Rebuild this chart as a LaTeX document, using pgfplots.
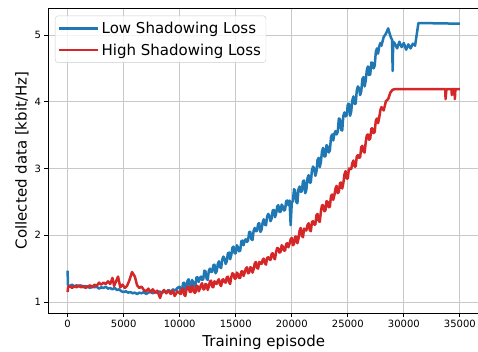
\documentclass[border=0pt]{standalone}
\usepackage{fontspec}
\setmainfont{DejaVu Sans}
\usepackage{pgfplots}
\pgfplotsset{compat=1.18}
\definecolor{tabblue}{HTML}{1F77B4}
\definecolor{tabred}{HTML}{D62728}
\definecolor{gridgray}{HTML}{C8C8C8}
\definecolor{legedge}{HTML}{CCCCCC}
\begin{document}
\begin{tikzpicture}
\useasboundingbox (-48pt,-38pt) rectangle (430pt,313pt);
\begin{axis}[
  at={(0pt,0pt)}, anchor=south west,
  scale only axis, width=431.5pt, height=305pt,
  xmin=-1750, xmax=36750, ymin=0.835, ymax=5.405,
  xtick={0,5000,...,35000}, ytick={1,2,3,4,5},
  scaled x ticks=false,
  grid=major, major grid style={gridgray, line width=0.8pt},
  axis line style={black, line width=0.8pt},
  tick align=outside, major tick length=3.5pt,
  tick style={black, line width=0.8pt},
  xtick pos=bottom, ytick pos=left,
  /pgf/number format/assume math mode=true,
  /pgf/number format/1000 sep={},
  ticklabel style={font=\fontsize{10}{12}\selectfont},
  xlabel={Training episode}, ylabel={Collected data [kbit/Hz]},
  label style={font=\fontsize{15}{18}\selectfont},
  xlabel style={at={(axis description cs:0.5,-0.0974)}, anchor=center, inner sep=0pt},
  ylabel style={at={(axis description cs:-0.0603,0.5)}, anchor=center, inner sep=0pt, rotate=0},
  legend style={at={(axis description cs:0.0162,0.975)}, anchor=north west,
    draw=legedge, rounded corners=3pt, fill=white, fill opacity=0.8, text opacity=1,
    font=\fontsize{15}{18}\selectfont, inner xsep=3pt, inner ysep=4pt,
    row sep=5pt},
  legend cell align=left,
  legend image code/.code={\draw[#1, line width=2.5pt] (0pt,0pt) -- (32pt,0pt); \path (0pt,0pt) -- (39pt,0pt);},
]
\addplot[tabblue, line width=2.5pt, line join=round] coordinates {
(0,1.47) (30,1.25) (200,1.24) (400,1.26) (600,1.23) (800,1.25) (1000,1.23) (1200,1.25)
(1400,1.22) (1600,1.24) (1800,1.23) (2000,1.21) (2200,1.24) (2400,1.22) (2600,1.23)
(2800,1.20) (3000,1.22) (3200,1.21) (3400,1.23) (3600,1.20) (3800,1.21) (4000,1.19)
(4200,1.21) (4400,1.18) (4600,1.19) (4800,1.16) (5000,1.15) (5200,1.16) (5400,1.14)
(5600,1.15) (5800,1.13) (6000,1.14) (6200,1.12) (6400,1.14) (6600,1.13) (6800,1.15)
(7000,1.12) (7200,1.14) (7400,1.15) (7600,1.13) (7800,1.15) (8000,1.14) (8200,1.16)
(8400,1.13) (8600,1.16) (8800,1.15) (9000,1.18) (9200,1.15) (9400,1.19) (9600,1.17)
(9800,1.21)
(10000,1.23) (10100,1.14) (10200,1.17) (10300,1.28) (10400,1.29) (10500,1.18)
(10600,1.22) (10700,1.32) (10800,1.34) (10900,1.23) (11000,1.22) (11100,1.33)
(11200,1.30) (11300,1.23) (11400,1.24) (11500,1.37) (11600,1.37) (11700,1.30)
(11800,1.36) (11900,1.38) (12000,1.33) (12100,1.34) (12200,1.47) (12300,1.46)
(12400,1.35) (12500,1.33) (12600,1.47) (12700,1.50) (12800,1.45) (12900,1.45)
(13000,1.55) (13100,1.56) (13200,1.43) (13300,1.46) (13400,1.57) (13500,1.61)
(13600,1.52) (13700,1.51) (13800,1.64) (13900,1.68) (14000,1.65) (14100,1.57)
(14200,1.61) (14300,1.73) (14400,1.74) (14500,1.64) (14600,1.70) (14700,1.81)
(14800,1.83) (14900,1.73) (15000,1.73) (15100,1.85) (15200,1.82) (15300,1.76)
(15400,1.77) (15500,1.91) (15600,1.92) (15700,1.85) (15800,1.92) (15900,1.94)
(16000,1.90) (16100,1.92) (16200,2.05) (16300,2.05) (16400,1.94) (16500,1.93)
(16600,2.07) (16700,2.11) (16800,2.06) (16900,2.07) (17000,2.17) (17100,2.18)
(17200,2.05) (17300,2.08) (17400,2.19) (17500,2.24) (17600,2.16) (17700,2.15)
(17800,2.28) (17900,2.32) (18000,2.29) (18100,2.21) (18200,2.25) (18300,2.37)
(18400,2.38) (18500,2.27) (18600,2.32) (18700,2.43) (18800,2.45) (18900,2.35)
(19000,2.35) (19100,2.46) (19200,2.43) (19300,2.37) (19400,2.38) (19500,2.51)
(19600,2.52) (19700,2.45) (19800,2.52) (19900,2.15) (20000,2.49) (20100,2.51)
(20200,2.69) (20300,2.67) (20400,2.50) (20500,2.48) (20600,2.69) (20700,2.73)
(20800,2.65) (20900,2.66) (21000,2.81) (21100,2.82) (21200,2.63) (21300,2.68)
(21400,2.85) (21500,2.90) (21600,2.79) (21700,2.79) (21800,2.98) (21900,3.03)
(22000,3.00) (22100,2.89) (22200,2.95) (22300,3.13) (22400,3.16) (22500,3.02)
(22600,3.10) (22700,3.26) (22800,3.31) (22900,3.18) (23000,3.18) (23100,3.35)
(23200,3.33) (23300,3.24) (23400,3.27) (23500,3.47) (23600,3.51) (23700,3.42)
(23800,3.52) (23900,3.56) (24000,3.51) (24100,3.55) (24200,3.75) (24300,3.74)
(24400,3.58) (24500,3.57) (24600,3.79) (24700,3.84) (24800,3.78) (24900,3.80)
(25000,3.96) (25100,3.97) (25200,3.79) (25300,3.85) (25400,4.02) (25500,4.08)
(25600,3.97) (25700,3.97) (25800,4.17) (25900,4.23) (26000,4.20) (26100,4.10)
(26200,4.16) (26300,4.34) (26400,4.37) (26500,4.23) (26600,4.32) (26700,4.48)
(26800,4.53) (26900,4.40) (27000,4.41) (27100,4.59) (27200,4.58) (27300,4.50)
(27400,4.54) (27500,4.75) (27600,4.80) (27700,4.72) (27800,4.83) (27900,4.88)
(28000,4.84) (28200,4.97) (28400,5.02) (28600,5.10) (28700,5.04) (28850,4.96) (28950,4.93)
(29000,4.46) (29050,4.90) (29200,4.87) (29400,4.80) (29600,4.90) (29800,4.82)
(30000,4.88) (30200,4.78) (30400,4.86) (30600,4.80) (30800,4.87) (31000,4.84)
(31300,5.18) (35000,5.17)
};
\addlegendentry{Low Shadowing Loss}
\addplot[tabred, line width=2.5pt, line join=round] coordinates {
(0,1.15) (40,1.22) (200,1.24) (400,1.21) (600,1.24) (800,1.22) (1000,1.25) (1200,1.22)
(1400,1.24) (1600,1.21) (1800,1.23) (2000,1.25) (2200,1.22) (2400,1.26) (2600,1.24)
(2800,1.29) (3000,1.26) (3200,1.29) (3400,1.27) (3600,1.31) (3800,1.27) (4000,1.36)
(4150,1.24) (4300,1.30) (4500,1.38) (4700,1.22) (4900,1.26) (5100,1.21) (5300,1.24)
(5500,1.32) (5750,1.45) (6000,1.38) (6200,1.25) (6400,1.21) (6600,1.23) (6800,1.18)
(7000,1.16) (7200,1.20) (7400,1.15) (7600,1.19) (7800,1.14) (8000,1.17) (8250,1.06)
(8400,1.14) (8600,1.18) (8800,1.13) (9000,1.17) (9200,1.12) (9400,1.17) (9550,1.09)
(9800,1.16)
(10000,1.13) (10100,1.12) (10200,1.20) (10300,1.20) (10400,1.11) (10500,1.09)
(10600,1.18) (10700,1.23) (10800,1.22) (10900,1.15) (11000,1.15) (11100,1.24)
(11200,1.21) (11300,1.14) (11400,1.14) (11500,1.24) (11600,1.24) (11700,1.16)
(11800,1.20) (11900,1.26) (12000,1.28) (12100,1.19) (12200,1.19) (12300,1.27)
(12400,1.26) (12500,1.18) (12600,1.23) (12700,1.31) (12800,1.32) (12900,1.23)
(13000,1.22) (13100,1.31) (13200,1.29) (13300,1.27) (13400,1.32) (13500,1.34)
(13600,1.26) (13700,1.24) (13800,1.33) (13900,1.34) (14000,1.30) (14100,1.29)
(14200,1.37) (14300,1.38) (14400,1.30) (14500,1.27) (14600,1.37) (14700,1.43)
(14800,1.42) (14900,1.35) (15000,1.35) (15100,1.44) (15200,1.42) (15300,1.36)
(15400,1.36) (15500,1.46) (15600,1.46) (15700,1.39) (15800,1.44) (15900,1.50)
(16000,1.52) (16100,1.43) (16200,1.44) (16300,1.52) (16400,1.51) (16500,1.44)
(16600,1.49) (16700,1.58) (16800,1.60) (16900,1.51) (17000,1.50) (17100,1.60)
(17200,1.58) (17300,1.57) (17400,1.63) (17500,1.65) (17600,1.58) (17700,1.56)
(17800,1.66) (17900,1.67) (18000,1.64) (18100,1.63) (18200,1.72) (18300,1.73)
(18400,1.66) (18500,1.64) (18600,1.75) (18700,1.81) (18800,1.80) (18900,1.74)
(19000,1.75) (19100,1.85) (19200,1.83) (19300,1.77) (19400,1.77) (19500,1.87)
(19600,1.88) (19700,1.82) (19800,1.87) (19900,1.94) (20000,1.96) (20100,1.85)
(20200,1.87) (20300,1.98) (20400,1.98) (20500,1.88) (20600,1.95) (20700,2.07)
(20800,2.11) (20900,1.99) (21000,1.97) (21100,2.10) (21200,2.08) (21300,2.07)
(21400,2.15) (21500,2.18) (21600,2.08) (21700,2.06) (21800,2.20) (21900,2.21)
(22000,2.16) (22100,2.16) (22200,2.30) (22300,2.32) (22400,2.22) (22500,2.20)
(22600,2.36) (22700,2.45) (22800,2.45) (22900,2.36) (23000,2.37) (23100,2.51)
(23200,2.50) (23300,2.42) (23400,2.43) (23500,2.59) (23600,2.61) (23700,2.53)
(23800,2.60) (23900,2.70) (24000,2.74) (24100,2.63) (24200,2.65) (24300,2.78)
(24400,2.79) (24500,2.70) (24600,2.78) (24700,2.91) (24800,2.96) (24900,2.85)
(25000,2.85) (25100,3.00) (25200,2.99) (25300,2.99) (25400,3.08) (25500,3.12)
(25600,3.03) (25700,3.03) (25800,3.18) (25900,3.20) (26000,3.16) (26100,3.17)
(26200,3.32) (26300,3.34) (26400,3.25) (26500,3.24) (26600,3.40) (26700,3.50)
(26800,3.51) (26900,3.43) (27000,3.45) (27100,3.60) (27200,3.60) (27300,3.53)
(27400,3.55) (27500,3.72) (27600,3.75) (27700,3.68) (27800,3.76) (27900,3.87)
(28000,3.92) (28200,3.87) (28400,4.01) (28600,4.04) (28800,4.14) (29000,4.18) (29200,4.19)
(33700,4.19) (33720,4.04) (33800,4.19) (34250,4.19) (34280,4.10) (34320,4.19) (34520,4.19)
(34550,4.04) (34600,4.19) (35000,4.19)
};
\addlegendentry{High Shadowing Loss}
\end{axis}
\end{tikzpicture}
\end{document}
